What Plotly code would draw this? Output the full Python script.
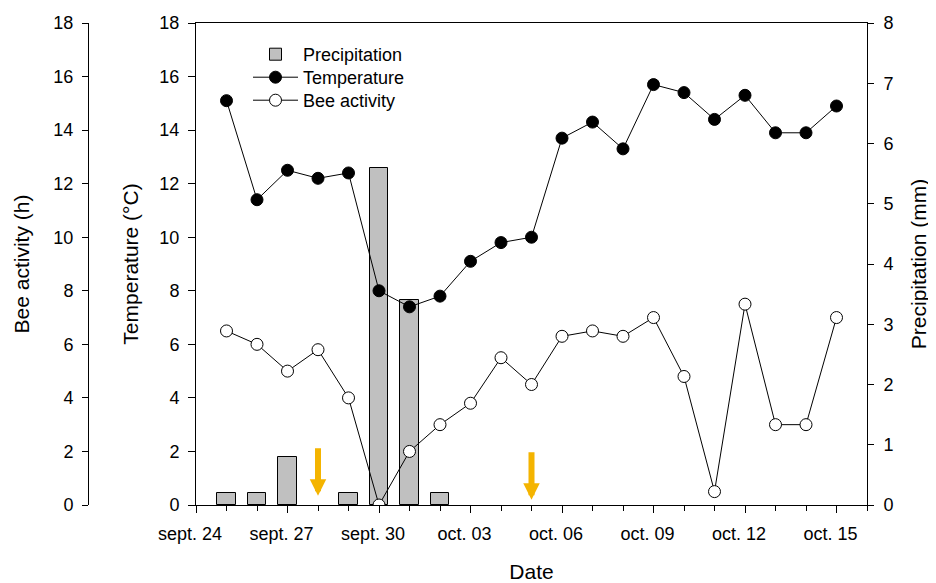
import plotly.graph_objects as go

# ---- data ----
dates = ["2019-09-25", "2019-09-26", "2019-09-27", "2019-09-28", "2019-09-29",
         "2019-09-30", "2019-10-01", "2019-10-02", "2019-10-03", "2019-10-04",
         "2019-10-05", "2019-10-06", "2019-10-07", "2019-10-08", "2019-10-09",
         "2019-10-10", "2019-10-11", "2019-10-12", "2019-10-13", "2019-10-14",
         "2019-10-15"]
temperature = [15.1, 11.4, 12.5, 12.2, 12.4, 8.0, 7.4, 7.8, 9.1, 9.8,
               10.0, 13.7, 14.3, 13.3, 15.7, 15.4, 14.4, 15.3, 13.9, 13.9, 14.9]
bee_activity = [6.5, 6.0, 5.0, 5.8, 4.0, 0.0, 2.0, 3.0, 3.8, 5.5,
                4.5, 6.3, 6.5, 6.3, 7.0, 4.8, 0.5, 7.5, 3.0, 3.0, 7.0]
precip_dates = ["2019-09-25", "2019-09-26", "2019-09-27", "2019-09-29",
                "2019-09-30", "2019-10-01", "2019-10-02"]
precipitation = [0.2, 0.2, 0.8, 0.2, 5.6, 3.4, 0.2]
tick_dates = ["2019-09-24", "2019-09-27", "2019-09-30", "2019-10-03",
              "2019-10-06", "2019-10-09", "2019-10-12", "2019-10-15"]
tick_labels = ["sept. 24", "sept. 27", "sept. 30", "oct. 03",
               "oct. 06", "oct. 09", "oct. 12", "oct. 15"]
arrow_dates = ["2019-09-28", "2019-10-05"]
arrow_tips = [0.35, 0.2]   # temperature-axis units

FONT = "Liberation Sans, Arial, sans-serif"
DAY = 86400000
OFF = 8                    # page body margin
W, H = 936 - OFF, 583 - OFF


def px_x(p):
    return (p - OFF) / W


def px_y(p):
    return 1 - (p - OFF) / H


fig = go.Figure()

fig.add_trace(go.Bar(
    x=precip_dates, y=precipitation, name="Precipitation",
    width=0.62 * DAY, marker=dict(color="#C0C0C0", line=dict(color="black", width=1)),
    yaxis="y", legend="legend"))

fig.add_trace(go.Scatter(
    x=dates, y=temperature, name="Temperature", mode="lines+markers",
    line=dict(color="black", width=1),
    marker=dict(color="black", size=12, line=dict(color="black", width=1)),
    yaxis="y2", legend="legend2"))

fig.add_trace(go.Scatter(
    x=dates, y=bee_activity, name="Bee activity", mode="lines+markers",
    line=dict(color="black", width=1),
    marker=dict(color="white", size=12, line=dict(color="black", width=1)),
    yaxis="y3", legend="legend3"))

for d, t in zip(arrow_dates, arrow_tips):
    fig.add_annotation(x=d, y=t, xref="x", yref="y2", ax=0, ay=-49,
                       showarrow=True, arrowhead=2, arrowwidth=6, arrowsize=0.55,
                       arrowcolor="#F4B400", text="")

tickfont = dict(family=FONT, size=18, color="black")
titlefont = dict(family=FONT, size=21, color="black")
legfont = dict(family=FONT, size=18, color="black")


def legend_at(top):
    return dict(x=px_x(248), y=px_y(top), xanchor="left", yanchor="top",
                font=legfont, bgcolor="rgba(0,0,0,0)", itemwidth=45)


fig.update_layout(
    width=W, height=H,
    margin=dict(l=0, r=0, t=0, b=0),
    paper_bgcolor="white", plot_bgcolor="white",
    showlegend=True,
    legend=legend_at(36),
    legend2=legend_at(59),
    legend3=legend_at(82),
    bargap=0,
    xaxis=dict(
        type="date", domain=[px_x(196), px_x(867)], range=["2019-09-24", "2019-10-16"],
        tickmode="array", tickvals=tick_dates, ticktext=tick_labels,
        ticks="outside", ticklen=7, tickcolor="black", tickwidth=1,
        minor=dict(ticks="outside", ticklen=5, tickcolor="black", dtick=DAY,
                   tick0="2019-09-24", showgrid=False),
        showline=True, linecolor="black", linewidth=1, mirror=True,
        showgrid=False, zeroline=False, tickfont=tickfont,
        ticklabelshift=-6, ticklabelstandoff=5,
        title=dict(text="Date", font=titlefont, standoff=27),
        anchor="y", automargin=False),
    yaxis=dict(  # precipitation (base, right)
        domain=[px_y(505), px_y(23)], range=[0, 8], side="right", anchor="x",
        dtick=1, ticks="outside", ticklen=6, tickcolor="black",
        showline=True, linecolor="black", linewidth=1,
        showgrid=False, zeroline=False, tickfont=tickfont, ticklabelstandoff=6,
        title=dict(text="Precipitation (mm)", font=titlefont, standoff=18),
        automargin=False),
    yaxis2=dict(  # temperature (left, on the box)
        overlaying="y", range=[0, 18], side="left", anchor="x",
        dtick=2, ticks="outside", ticklen=7, tickcolor="black",
        showline=True, linecolor="black", linewidth=1,
        showgrid=False, zeroline=False, tickfont=tickfont, ticklabelstandoff=5,
        title=dict(text="Temperature (°C)", font=titlefont, standoff=15),
        automargin=False),
    yaxis3=dict(  # bee activity (free, far left)
        overlaying="y", range=[0, 18], side="left", anchor="free",
        position=px_x(88),
        dtick=2, ticks="outside", ticklen=6, tickcolor="black",
        showline=True, linecolor="black", linewidth=1,
        showgrid=False, zeroline=False, tickfont=tickfont, ticklabelstandoff=5,
        title=dict(text="Bee activity (h)", font=titlefont, standoff=17),
        automargin=False),
)

fig.write_html("out.html")
